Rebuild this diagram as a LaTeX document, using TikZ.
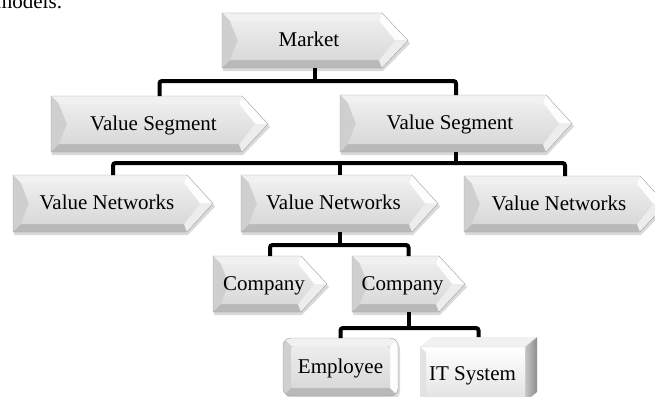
\documentclass[tikz,border=0pt]{standalone}
\usepackage{fontspec}
\setmainfont{Liberation Serif}
\usetikzlibrary{calc}
\definecolor{facec}{HTML}{DADADA}
\definecolor{topc}{HTML}{F1F1F1}
\definecolor{leftc}{HTML}{CFCFCF}
\definecolor{botc}{HTML}{B9B9B9}
\definecolor{rtc}{HTML}{FDFDFD}
\definecolor{rbc}{HTML}{EDEDED}
\definecolor{facetop}{HTML}{EDEDED}
\definecolor{facebot}{HTML}{D9D9D9}
\definecolor{edgec}{HTML}{A0A0A0}
\tikzset{
  shadowc/.style={fill=black, opacity=0.15},
  facesh/.style={top color=facetop, bottom color=facebot},
  outline/.style={draw=edgec, line width=0.4pt},
  txtbox/.style={shape=rectangle, draw=none, inner sep=0pt, outer sep=0pt,
    text height=16pt, text depth=4pt, font=\fontsize{21}{24}\selectfont},
  conn/.style={line width=4pt, rounded corners=2.5pt, black}
}
% #1 name, #2 left, #3 top, #4 tip, #5 bottom, #6 text
\newcommand\chevnode[6]{%
  \pgfmathsetmacro\cM{(#3+#5)/2}%
  \pgfmathsetmacro\cC{#4-26}%
  \pgfmathsetmacro\cX{(#2+#4)/2}%
  \fill[shadowc] ({#2+1},{#3+3}) -- ({\cC+1},{#3+3}) -- ({#4+2},{\cM+3}) -- ({\cC+1},{#5+3}) -- ({#2+1},{#5+3}) -- cycle;
  \fill[facec] (#2,#3) -- (\cC,#3) -- (#4,\cM) -- (\cC,#5) -- (#2,#5) -- cycle;
  \fill[topc] (#2,#3) -- (\cC,#3) -- ({\cC-3},{#3+8}) -- ({#2+8},{#3+8}) -- cycle;
  \fill[leftc] (#2,#3) -- ({#2+8},{#3+8}) -- ({#2+16},\cM) -- ({#2+8},{#5-8}) -- (#2,#5) -- cycle;
  \fill[botc] (#2,#5) -- ({#2+8},{#5-8}) -- ({\cC-3},{#5-8}) -- (\cC,#5) -- cycle;
  \fill[rtc] (\cC,#3) -- (#4,\cM) -- ({#4-13},\cM) -- ({\cC-3},{#3+8}) -- cycle;
  \fill[rbc] (#4,\cM) -- (\cC,#5) -- ({\cC-3},{#5-8}) -- ({#4-13},\cM) -- cycle;
  \shade[facesh] ({#2+8},{#3+8}) -- ({\cC-3},{#3+8}) -- ({#4-13},\cM) -- ({\cC-3},{#5-8}) -- ({#2+8},{#5-8}) -- ({#2+16},\cM) -- cycle;
  \draw[outline] (#2,#3) -- (\cC,#3) -- (#4,\cM) -- (\cC,#5) -- (#2,#5) -- cycle;
  \node[txtbox, minimum width={(#4-#2)*1pt}, minimum height={(#5-#3)*1pt}] (#1) at (\cX,\cM) {\hspace*{-12pt}#6};
}
\begin{document}
\begin{tikzpicture}[x=1pt,y=-1pt]
\useasboundingbox (0,0) rectangle (655,396);
\clip (0,0) rectangle (655,396);

\node[txtbox, text height=, text depth=, anchor=base east] (models) at (62,9) {models.};

\chevnode{market}{222}{13}{408}{68}{Market}
\chevnode{vs1}{51}{96}{268}{152}{Value Segment}
\chevnode{vs2}{340}{95}{572}{152}{Value Segment}
\chevnode{vn1}{13}{175}{213}{232}{Value Networks}
\chevnode{vn2}{241}{175}{438}{232}{Value Networks}
\chevnode{vn3}{464}{176}{666}{232}{Value Networks}
\chevnode{comp1}{213}{256}{327}{312}{Company}
\chevnode{comp2}{352}{256}{465}{312}{Company}

% Employee (rounded bevel box)
\fill[shadowc, rounded corners=8] (285,341) rectangle (400,399);
\begin{scope}
  \clip[rounded corners=8] (283,338) rectangle (398,396);
  \fill[facec] (283,338) rectangle (398,396);
  \fill[topc] (283,338) -- (398,338) -- (390,346) -- (291,346) -- cycle;
  \fill[leftc] (283,338) -- (291,346) -- (291,388) -- (283,396) -- cycle;
  \fill[botc] (283,396) -- (291,388) -- (390,388) -- (398,396) -- cycle;
  \fill[rtc] (398,338) -- (390,346) -- (390,388) -- (398,396) -- cycle;
  \shade[facesh, rounded corners=4] (291,346) rectangle (390,388);
\end{scope}
\draw[outline, rounded corners=8] (283,338) rectangle (398,396);
\node[txtbox, minimum width=115pt, minimum height=58pt] (emp) at (340.5,367) {Employee};

% IT System (cube)
\fill[topc] (420,347) -- (432,337) -- (537,337) -- (525,347) -- cycle;
\shade[left color=black!22, right color=black!45] (525,347) -- (537,337) -- (537,392) -- (525,402) -- cycle;
\shade[top color=white, bottom color=black!12] (420,347) rectangle (525,402);
\fill[leftc!60!white] (420,347) -- (426,352) -- (426,402) -- (420,402) -- cycle;
\draw[draw=black!15, line width=0.4pt] (420,347) -- (525,347) -- (537,337);
\node[txtbox, minimum width=105pt, minimum height=55pt] (its) at (472.5,374.5) {IT System};
\coordinate (itstop) at ($(its.north)+(6,-10)$);

% connectors
\path (market.south) ++(0,13) coordinate (b1);
\draw[conn] (market.south) -- (b1);
\draw[conn] (vs1.north) |- (b1) -| (vs2.north);

\path (vs2.south) ++(0,11) coordinate (b2);
\draw[conn] (vs2.south) -- (b2);
\draw[conn] (vn1.north) |- (b2) -| (vn3.north);
\draw[conn] (vn2.north) -- (vn2.north |- b2);

\path (vn2.south) ++(0,13) coordinate (b3);
\draw[conn] (vn2.south) -- (b3);
\draw[conn] (comp1.north) |- (b3) -| (comp2.north);

\path (comp2.south) ++(0,16) coordinate (b4);
\draw[conn] (comp2.south) -- (b4);
\draw[conn] (emp.north) |- (b4) -| (itstop);
\end{tikzpicture}
\end{document}
